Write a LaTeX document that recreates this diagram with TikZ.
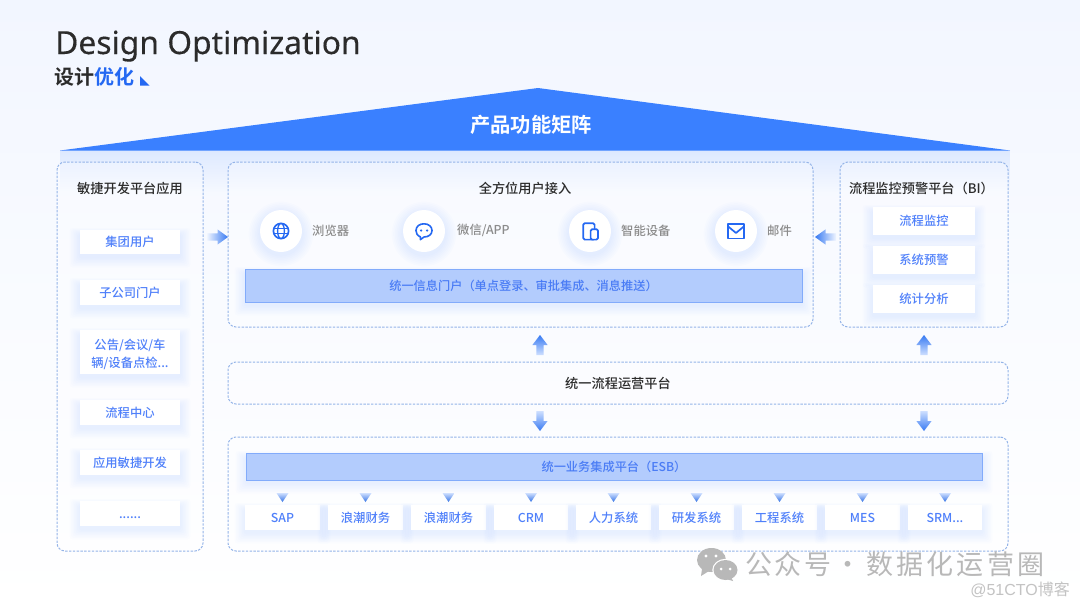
\documentclass[tikz,border=0pt]{standalone}
\usepackage{fontspec}
\setmainfont{Noto Sans CJK SC}[BoldFont={Noto Sans CJK SC Medium}]
\newfontfamily\heavy{Noto Sans CJK SC Bold}
\newfontfamily\latinfont{Noto Sans}[FakeBold=0.25]
\newfontfamily\wmlatin{Liberation Sans}
\usetikzlibrary{calc,fadings}
\definecolor{brand}{HTML}{3A80FF}
\definecolor{iconblue}{HTML}{2468F2}
\definecolor{dashc}{HTML}{94B4E8}
\definecolor{boxtext}{HTML}{4F80FA}
\definecolor{bartext}{HTML}{4A7CF5}
\definecolor{barfill}{HTML}{B3CCFD}
\definecolor{barline}{HTML}{82ABFB}
\definecolor{ink}{HTML}{2B2B2B}
\definecolor{graytext}{HTML}{8C8C8C}
\definecolor{wm}{HTML}{B8B8B8}
\definecolor{bgtop}{HTML}{F2F6FF}
\definecolor{bgmid}{HTML}{F9FBFF}
\tikzset{
  panel/.style={draw=dashc,line width=1pt,dash pattern=on 2.4pt off 1.4pt,rounded corners=8pt,fill=white,fill opacity=0.3,text opacity=1,inner sep=0pt,outer sep=0pt},
  card/.style={fill=white,inner sep=0pt,outer sep=0pt,text=boxtext,align=center,font=\fontsize{12.3}{18}\selectfont\bfseries},
  bar/.style={fill=barfill,draw=barline,line width=0.8pt,inner sep=0pt,outer sep=0pt,text=bartext,font=\fontsize{12.2}{14}\selectfont\bfseries},
  headtext/.style={text=ink,inner sep=0pt,font=\fontsize{13.2}{15}\selectfont\bfseries},
  lab/.style={text=graytext,inner sep=0pt,anchor=west,font=\fontsize{12.3}{14}\selectfont\bfseries},
  disc/.style={circle,fill=white,minimum size=42pt,inner sep=0pt,outer sep=0pt},
  icon/.style={draw=iconblue,line width=1.7pt,line join=round},
  tri/.style={top color=brand!25!white,bottom color=brand!90!black},
}
% box: name, x1, y1, x2, y2, style, text
\newcommand\pbox[7]{\node[#6,minimum width={(#4-#2)*1pt},minimum height={(#5-#3)*1pt}] (#1) at ({(#2+#4)/2},{(#3+#5)/2}) {#7};}
% soft shadow below a rectangle
\newcommand\glow[4]{\foreach \g in {1,...,7}{\fill[brand,opacity=0.013,rounded corners=3pt] ({#1-\g*1.5},{#2-\g*1.0+5}) rectangle ({#3+\g*1.5},{#4+\g*1.5+3});}}
\newcommand\cardbox[6]{\glow{#2}{#3}{#4}{#5}\pbox{#1}{#2}{#3}{#4}{#5}{card}{#6}}
% block arrow with fading tail, from one named coordinate to another
\newcommand\garrow[3]{\coordinate (n#1#2) at ($(#1)!0.5!(#2)$);
  \shade[#3] ($(#1)!3.6pt!90:(#2)$) -- ($(n#1#2)!3.6pt!90:(#2)$) -- ($(n#1#2)!7.6pt!90:(#2)$) -- (#2) -- ($(n#1#2)!7.6pt!-90:(#2)$) -- ($(n#1#2)!3.6pt!-90:(#2)$) -- ($(#1)!3.6pt!-90:(#2)$) -- cycle;}
\newcommand\smalltri[1]{\coordinate (t#1) at ([yshift=3pt]#1.north);
  \shade[tri] ($(t#1)+(-6,-9)$) -- ($(t#1)+(6,-9)$) -- (t#1) -- cycle;}
\begin{document}
\begin{tikzpicture}[x=1pt,y=-1pt]
\useasboundingbox (0,0) rectangle (1080,608);
\shade[top color=bgtop,bottom color=white,middle color=bgmid] (0,0) rectangle (1080,608);
% shadow below roof
\fill[brand,opacity=0.13,path fading=south] (60,150) rectangle (1010,192);
% roof
\node[inner sep=0pt] (roofl) at (60,150.5) {};
\node[inner sep=0pt] (rooft) at (538,88) {};
\node[inner sep=0pt] (roofr) at (1010,150.5) {};
\fill[brand] (roofl.center) -- (rooft.center) -- (roofr.center) -- cycle;
\node[text=white,inner sep=0pt,font=\fontsize{20.3}{24}\heavy] (rooftitle) at (531,125) {产品功能矩阵};
% title
\node[anchor=base west,inner sep=0pt,text=ink,font=\fontsize{31.8}{36}\latinfont\selectfont] (title) at (55,54) {Design Optimization};
\node[anchor=west,inner sep=0pt,text=ink,font=\fontsize{20}{24}\heavy] (subtitle) at (54.5,77) {设计\textcolor{iconblue}{优化}};
\fill[iconblue] (140,76) -- (140,85.5) -- (149.5,85.5) -- cycle;
% panels
\pbox{pL}{57}{162}{203}{551}{panel}{}
\pbox{pC}{228}{162}{813}{327}{panel}{}
\pbox{pR}{840}{162}{1008}{327}{panel}{}
\pbox{pM}{228}{362}{1008}{404}{panel}{}
\pbox{pB}{228}{437}{1008}{551}{panel}{}
% panel headings
\node[headtext] (hL) at (130,188) {敏捷开发平台应用};
\node[headtext] (hC) at (525,188) {全方位用户接入};
\node[headtext] (hR) at (921.5,188) {流程监控预警平台（BI）};
\node[headtext] (hM) at (618,383.5) {统一流程运营平台};
% left cards
\cardbox{c1}{80}{230}{180}{254}{集团用户}
\cardbox{c2}{80}{280}{180}{305}{子公司门户}
\cardbox{c3}{80}{330}{180}{374}{\rule{0pt}{16pt}公告/会议/车\\辆/设备点检...}
\cardbox{c4}{80}{400}{180}{425}{流程中心}
\cardbox{c5}{80}{450}{180}{475}{应用敏捷开发}
\cardbox{c6}{80}{501}{180}{526}{\raisebox{-2pt}[9pt][3pt]{......}}
% right cards
\cardbox{r1}{873}{207}{975}{235}{流程监控}
\cardbox{r2}{873}{246}{975}{274}{系统预警}
\cardbox{r3}{873}{285}{975}{313}{统计分析}
% discs
\foreach \x in {281,424,590,736}{\foreach \g in {1,...,7}{\fill[brand,opacity=0.014] (\x,{231+3}) circle ({21+\g*1.6});}}
\node[disc] (d1) at (281,231) {};
\node[disc] (d2) at (424,231) {};
\node[disc] (d3) at (590,231) {};
\node[disc] (d4) at (736,231) {};
% globe
\draw[icon] (d1.center) circle (7.6);
\draw[icon,line width=1.3pt] (d1.center) ellipse (3.4 and 7.6);
\draw[icon,line width=1.3pt] ($(d1.center)+(-7.4,-2.6)$) -- ($(d1.center)+(7.4,-2.6)$) ($(d1.center)+(-7.4,2.6)$) -- ($(d1.center)+(7.4,2.6)$);
% chat
\draw[icon,line width=1.6pt] ($(d2.center)+(-3.6,5.9)$) .. controls ($(d2.center)+(-7,4.5)$) and ($(d2.center)+(-8,2)$) .. ($(d2.center)+(-8,-0.5)$) .. controls ($(d2.center)+(-8,-5)$) and ($(d2.center)+(-4,-7.2)$) .. ($(d2.center)+(0,-7.2)$) .. controls ($(d2.center)+(4.5,-7.2)$) and ($(d2.center)+(8,-4.5)$) .. ($(d2.center)+(8,-0.5)$) .. controls ($(d2.center)+(8,3.5)$) and ($(d2.center)+(4.5,6)$) .. ($(d2.center)+(0,6)$) -- ($(d2.center)+(-3.6,8.6)$) -- cycle;
\fill[iconblue] ($(d2.center)+(-3,-0.5)$) circle (1.25) ($(d2.center)+(3,-0.5)$) circle (1.25);
% devices
\draw[icon,rounded corners=1.5pt] ($(d3.center)+(-6.8,-7.8)$) rectangle ($(d3.center)+(4.6,8.6)$);
\draw[icon,fill=white,rounded corners=1.5pt] ($(d3.center)+(0.6,-1.8)$) rectangle ($(d3.center)+(8,8.6)$);
% mail
\draw[icon] ($(d4.center)+(-7.8,-7.2)$) rectangle ($(d4.center)+(7.8,7.4)$);
\draw[icon] ($(d4.center)+(-7.8,-4.5)$) -- ($(d4.center)+(0,2)$) -- ($(d4.center)+(7.8,-4.5)$);
% labels
\node[lab] (l1) at (312,230.5) {浏览器};
\node[lab] (l2) at (457,230.5) {微信/APP};
\node[lab] (l3) at (621,230.5) {智能设备};
\node[lab] (l4) at (767,230.5) {邮件};
% bars
\glow{245}{269}{802}{302}
\pbox{b1}{245}{269}{802}{302}{bar}{统一信息门户（单点登录、审批集成、消息推送）}
\glow{246}{453}{982}{480}
\pbox{b2}{246}{453}{982}{480}{bar}{统一业务集成平台（ESB）}
% bottom cards
\cardbox{s1}{245}{505}{320}{530}{SAP}
\cardbox{s2}{328}{505}{403}{530}{浪潮财务}
\cardbox{s3}{411}{505}{486}{530}{浪潮财务}
\cardbox{s4}{494}{505}{568}{530}{CRM}
\cardbox{s5}{576}{505}{651}{530}{人力系统}
\cardbox{s6}{659}{505}{734}{530}{研发系统}
\cardbox{s7}{742}{505}{817}{530}{工程系统}
\cardbox{s8}{825}{505}{900}{530}{MES}
\cardbox{s9}{908}{505}{982}{530}{SRM...}
\foreach \n in {s1,s2,s3,s4,s5,s6,s7,s8,s9}{\smalltri{\n}}
% arrows between panels
\coordinate (a1s) at (207,237); \coordinate (a1t) at (228,237);
\coordinate (a2s) at (836,237); \coordinate (a2t) at (815,237);
\coordinate (a3s) at (540,355); \coordinate (a3t) at (540,335);
\coordinate (a4s) at (924,355); \coordinate (a4t) at (924,335);
\coordinate (a5s) at (540,411); \coordinate (a5t) at (540,431);
\coordinate (a6s) at (924,411); \coordinate (a6t) at (924,431);
\garrow{a1s}{a1t}{left color=brand!8!white,right color=brand!95!black}
\garrow{a2s}{a2t}{right color=brand!8!white,left color=brand!95!black}
\garrow{a3s}{a3t}{bottom color=brand!25!white,top color=brand!95!black}
\garrow{a4s}{a4t}{bottom color=brand!25!white,top color=brand!95!black}
\garrow{a5s}{a5t}{top color=brand!25!white,bottom color=brand!95!black}
\garrow{a6s}{a6t}{top color=brand!25!white,bottom color=brand!95!black}
% watermark
\fill[wm] (711.5,560) ellipse (14.5 and 12);
\fill[wm] (702,569) -- (701,576) -- (709,571) -- cycle;
\fill[white] (725.5,570) ellipse (13.2 and 11.2);
\fill[wm] (725.5,570) ellipse (12 and 10);
\fill[wm] (731,577) -- (733,581) -- (726,579) -- cycle;
\fill[white] (706,556) circle (1.7) (716,556) circle (1.7) (721,569) circle (1.5) (730,569) circle (1.5);
\node[anchor=west,inner sep=0pt,text=wm,font=\fontsize{27}{30}\selectfont] (wm1) at (745,564.5) {\addfontfeature{LetterSpace=10}公众号};
\node[inner sep=0pt,text=wm,font=\fontsize{27}{30}\selectfont] (wmdot) at (848,568) {·};
\node[anchor=west,inner sep=0pt,text=wm,font=\fontsize{27}{30}\selectfont] (wm3) at (866,564.5) {\addfontfeature{LetterSpace=12}数据化运营圈};
\node[anchor=east,inner sep=0pt,text=wm!85!white,font=\fontsize{16}{18}\selectfont] (wm2) at (1070,589.5) {{\wmlatin @51CTO}博客};
\end{tikzpicture}
\end{document}
